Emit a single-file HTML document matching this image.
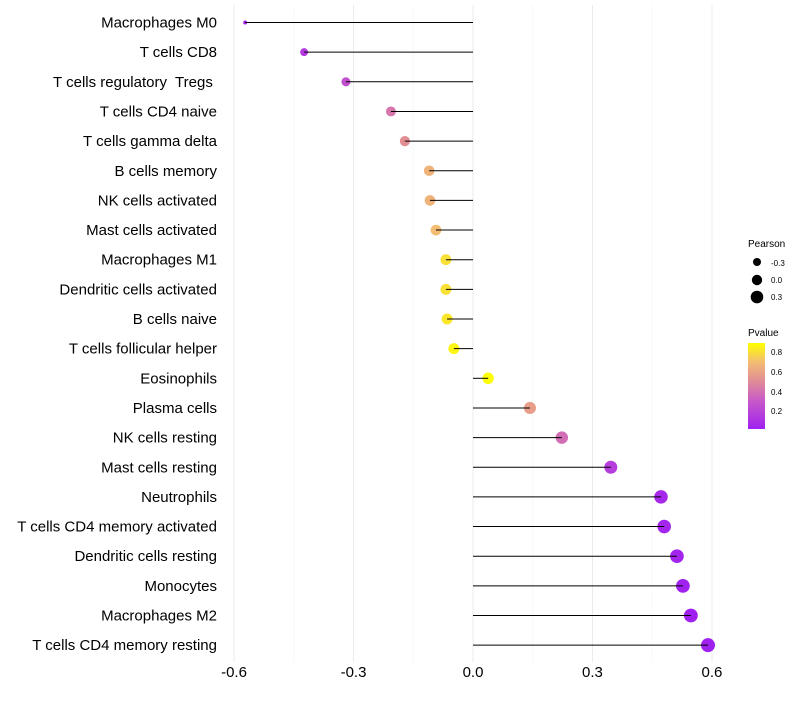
<!DOCTYPE html>
<html><head><meta charset="utf-8"><style>
body{margin:0;background:#fff;}
svg text{font-family:"Liberation Sans",sans-serif;white-space:pre;}
</style></head><body>
<svg id="chart" width="800" height="700" xmlns="http://www.w3.org/2000/svg">
<defs>
<linearGradient id="pgrad" x1="0" y1="1" x2="0" y2="0">
<stop offset="0" stop-color="#a020f0"/>
<stop offset="0.33" stop-color="#c85ac8"/>
<stop offset="0.55" stop-color="#e08a98"/>
<stop offset="0.78" stop-color="#f3bd72"/>
<stop offset="1" stop-color="#ffff00"/>
</linearGradient>
</defs>
<g id="grid"></g><g id="marks"></g><g id="axes"></g>
<g>
<text x="748" y="247" font-size="10">Pearson</text>
<circle cx="757" cy="262" r="4" fill="#000"/>
<text x="771" y="266" font-size="8">-0.3</text>
<circle cx="757" cy="280" r="5.2" fill="#000"/>
<text x="771" y="283" font-size="8">0.0</text>
<circle cx="757" cy="297" r="6.3" fill="#000"/>
<text x="771" y="300" font-size="8">0.3</text>
</g>
<g>
<text x="748" y="336" font-size="10">Pvalue</text>
<rect x="748" y="343" width="17" height="86" fill="url(#pgrad)"/>
<text x="771" y="355" font-size="8">0.8</text>
<text x="771" y="375" font-size="8">0.6</text>
<text x="771" y="395" font-size="8">0.4</text>
<text x="771" y="414" font-size="8">0.2</text>
</g>
</svg>
<script>
const categories=["Macrophages M0","T cells CD8","T cells regulatory  Tregs ","T cells CD4 naive","T cells gamma delta","B cells memory","NK cells activated","Mast cells activated","Macrophages M1","Dendritic cells activated","B cells naive","T cells follicular helper","Eosinophils","Plasma cells","NK cells resting","Mast cells resting","Neutrophils","T cells CD4 memory activated","Dendritic cells resting","Monocytes","Macrophages M2","T cells CD4 memory resting"];
const pearson=[-0.572,-0.424,-0.319,-0.206,-0.171,-0.110,-0.108,-0.093,-0.068,-0.068,-0.065,-0.048,0.038,0.143,0.223,0.346,0.472,0.480,0.512,0.527,0.547,0.590];
const pvalues=[0.04,0.15,0.25,0.42,0.52,0.66,0.66,0.7,0.8,0.8,0.82,0.86,0.88,0.58,0.38,0.16,0.06,0.05,0.04,0.03,0.02,0.01];
const xTicks=[-0.6,-0.3,0,0.3,0.6];
const xTickLabels=["-0.6","-0.3","0.0","0.3","0.6"];
const NS="http://www.w3.org/2000/svg";
const x=v=>473+v*398.3;
const y=i=>22.5+i*29.65;
const rad=v=>2+5*Math.pow(Math.max(0,(v+0.572)/1.162),0.45);
const stops=[[0.02,[160,32,240]],[0.3,[200,90,200]],[0.5,[224,138,152]],[0.7,[243,189,114]],[0.89,[255,255,0]]];
function col(p){if(p<=stops[0][0])return`rgb(${stops[0][1]})`;for(let k=1;k<stops.length;k++){if(p<=stops[k][0]){const a=stops[k-1],b=stops[k],t=(p-a[0])/(b[0]-a[0]);return`rgb(${a[1].map((c,j)=>Math.round(c+(b[1][j]-c)*t))})`;}}return"rgb(255,255,0)";}
function mk(tag,attrs,parent){const e=document.createElementNS(NS,tag);for(const k in attrs)e.setAttribute(k,attrs[k]);parent.appendChild(e);return e;}
const grid=document.getElementById('grid'),marks=document.getElementById('marks'),axes=document.getElementById('axes');
for(let k=0;k<xTicks.length;k++){
 const g=mk('line',{x1:x(xTicks[k]),x2:x(xTicks[k]),y1:5,y2:662,stroke:'#ebebeb','stroke-width':1},grid);
 
 
 if(k<xTicks.length-1){const m=(xTicks[k]+xTicks[k+1])/2;
 const g2=mk('line',{x1:x(m),x2:x(m),y1:5,y2:662,stroke:'#f4f4f4','stroke-width':0.6},grid);
 
 }
 const t=mk('text',{x:x(xTicks[k]),y:677,'font-size':15,'text-anchor':'middle',fill:'#000'},axes);
 t.textContent=xTickLabels[k];
 
 
}
categories.forEach((c,i)=>{
 const t=mk('text',{x:217,y:y(i)+5,'font-size':15,'text-anchor':'end',fill:'#000'},axes);
 t.textContent=c;
 
 
 const d=mk('circle',{cx:x(pearson[i]),cy:y(i),r:rad(pearson[i]),fill:col(pvalues[i])},marks);
 
 
 const l=mk('line',{x1:x(0),x2:x(pearson[i]),y1:y(i),y2:y(i),stroke:'#000','stroke-width':1},marks);
 
 
});
</script>
</body></html>
